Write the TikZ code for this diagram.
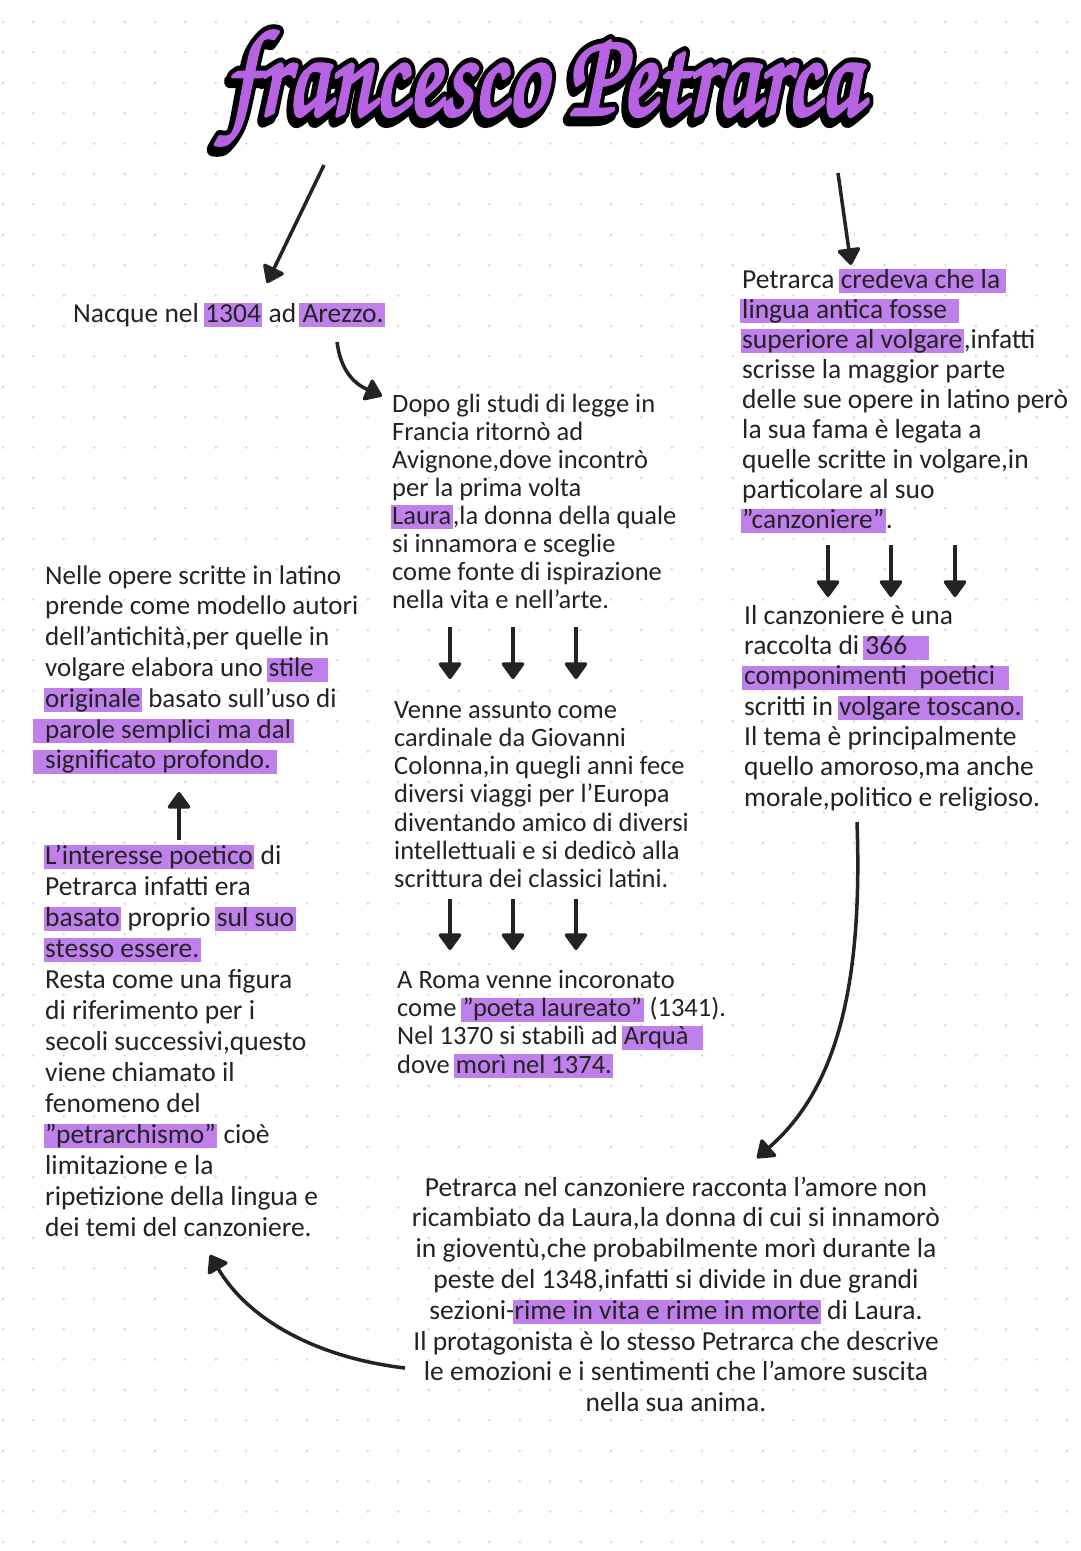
\documentclass[tikz,border=0pt]{standalone}
\usepackage{fontspec}
\usepackage{graphicx}
\setmainfont{Carlito}
\newfontfamily\titlefont{texgyrechorus-mediumitalic.otf}
\usetikzlibrary{arrows.meta}
\definecolor{hlc}{RGB}{192,128,236}
\definecolor{titlec}{RGB}{182,98,226}
\definecolor{dotc}{RGB}{208,208,208}
\definecolor{ink}{RGB}{35,35,35}
\newcommand\hlb[3]{{\fboxsep=0pt\kern-#1\colorbox{hlc}{\kern#1\rule[-5pt]{0pt}{24pt}#3\kern#2}}}
\newcommand\hl[1]{\hlb{1.5pt}{1.5pt}{#1}}
\newcommand\titletext{\resizebox*{636pt}{114pt}{\titlefont\fontsize{100}{100}\selectfont francesco Petrarca}}
\newcommand\strokedtitle[2]{\special{pdf:literal direct 2 Tr 1 j 1 J #1 RG #2 w}\titletext\special{pdf:literal direct 0 Tr}}
\tikzset{
  txt/.style={anchor=north west, inner sep=0pt, align=left, text=ink},
  arr/.style={line width=3.5pt, draw=ink, -{Triangle[length=18pt,width=25pt,round]}},
  tnode/.style={inner sep=0pt},
}
\begin{document}
\begin{tikzpicture}[x=1pt,y=-1pt]
\useasboundingbox (0,0) rectangle (1080,1551);
\fill[white] (0,0) rectangle (1080,1551);
% dot grid
\foreach \i in {0,...,35}{
  \foreach \j in {0,...,50}{
    \fill[dotc] ({3+30.4*\i},{22+30.4*\j}) circle (1.2pt);
  }
}
% title: shadow, outline, purple letters
\node[tnode, text=black] (tshadow) at (540,93) {\strokedtitle{0 0 0}{11}};
\node[tnode, text=black] (toutline) at (543,88) {\strokedtitle{0 0 0}{11}};
\node[tnode, text=titlec] (title) at (543,88) {\strokedtitle{0.714 0.384 0.886}{3}};

% text blocks
\node[txt, font=\fontsize{27.5}{30.5}\selectfont] (nacque) at (73,300.65)
  {\strut Nacque nel \hl{1304} ad \hlb{4pt}{1.5pt}{Arezzo.}};

\node[txt, font=\fontsize{26.5}{28}\selectfont] (dopo) at (392,392.4)
  {\strut Dopo gli studi di legge in\\
   Francia ritornò ad\\
   Avignone,dove incontrò\\
   per la prima volta\\
   \hl{Laura},la donna della quale\\
   si innamora e sceglie\\
   come fonte di ispirazione\\
   nella vita e nell'arte.};

\node[txt, font=\fontsize{27.5}{30}\selectfont] (credeva) at (742,267)
  {\strut Petrarca \hlb{2pt}{6pt}{credeva che la}\\
   \hlb{2pt}{12pt}{lingua antica fosse}\\
   \hl{superiore al volgare},infatti\\
   scrisse la maggior parte\\
   delle sue opere in latino però\\
   la sua fama è legata a\\
   quelle scritte in volgare,in\\
   particolare al suo\\
   \hl{"canzoniere"}.};

\node[txt, font=\fontsize{27}{30.8}\selectfont] (opere) at (45,562.4)
  {\strut Nelle opere scritte in latino\\
   prende come modello autori\\
   dell'antichità,per quelle in\\
   volgare elabora uno \hlb{2pt}{14pt}{stile}\\
   \hl{originale} basato sull'uso di\\
   \hlb{12pt}{3pt}{parole semplici ma dal}\\
   \hlb{12pt}{6pt}{significato profondo.}};

\node[txt, font=\fontsize{27.5}{30.3}\selectfont] (canz) at (744,602.8)
  {\strut Il canzoniere è una\\
   raccolta di \hlb{2pt}{22pt}{366}\\
   \hlb{2pt}{14pt}{componimenti\ \ poetici}\\
   scritti in \hl{volgare toscano.}\\
   Il tema è principalmente\\
   quello amoroso,ma anche\\
   morale,politico e religioso.};

\node[txt, font=\fontsize{26.5}{28.2}\selectfont] (venne) at (394,698.3)
  {\strut Venne assunto come\\
   cardinale da Giovanni\\
   Colonna,in quegli anni fece\\
   diversi viaggi per l'Europa\\
   diventando amico di diversi\\
   intellettuali e si dedicò alla\\
   scrittura dei classici latini.};

\node[txt, font=\fontsize{27.5}{31}\selectfont] (interesse) at (45,842.3)
  {\strut \hl{L'interesse poetico} di\\
   Petrarca infatti era\\
   \hl{basato} proprio \hl{sul suo}\\
   \hl{stesso essere.}\\
   Resta come una figura\\
   di riferimento per i\\
   secoli successivi,questo\\
   viene chiamato il\\
   fenomeno del\\
   \hl{"petrarchismo"} cioè\\
   limitazione e la\\
   ripetizione della lingua e\\
   dei temi del canzoniere.};

\node[txt, font=\fontsize{26.5}{28.3}\selectfont] (roma) at (397,968.2)
  {\strut A Roma venne incoronato\\
   come \hl{"poeta laureato"} (1341).\\
   Nel 1370 si stabilì ad \hlb{2pt}{14pt}{Arquà}\\
   dove \hl{morì nel 1374.}};

\node[anchor=north, inner sep=0pt, align=center, text=ink, font=\fontsize{27.5}{30.8}\selectfont] (amore) at (676,1174.4)
  {\strut Petrarca nel canzoniere racconta l'amore non\\
   ricambiato da Laura,la donna di cui si innamorò\\
   in gioventù,che probabilmente morì durante la\\
   peste del 1348,infatti si divide in due grandi\\
   sezioni-\hl{rime in vita e rime in morte} di Laura.\\
   Il protagonista è lo stesso Petrarca che descrive\\
   le emozioni e i sentimenti che l'amore suscita\\
   nella sua anima.};

% connectors
\coordinate (c1s) at (324,165); \coordinate (c1e) at (267,283);
\draw[arr] (c1s) -- (c1e);
\coordinate (c2s) at (838,173); \coordinate (c2e) at (851,265);
\draw[arr] (c2s) -- (c2e);
\coordinate (c3s) at (337,342); \coordinate (c3e) at (382,396);
\draw[arr] (c3s) .. controls (341,372) and (355,384) .. (c3e);
\foreach \x [count=\k] in {450,513,576}{
  \coordinate (m1s\k) at (\x,627); \coordinate (m1e\k) at (\x,679);
  \draw[arr] (m1s\k) -- (m1e\k);
  \coordinate (m2s\k) at (\x,899); \coordinate (m2e\k) at (\x,950);
  \draw[arr] (m2s\k) -- (m2e\k);
}
\foreach \x [count=\k] in {828,891,955}{
  \coordinate (r1s\k) at (\x,545); \coordinate (r1e\k) at (\x,597);
  \draw[arr] (r1s\k) -- (r1e\k);
}
\coordinate (u1s) at (179,840); \coordinate (u1e) at (179,792);
\draw[arr] (u1s) -- (u1e);
\coordinate (c4s) at (857,822); \coordinate (c4e) at (757,1158);
\draw[arr] (c4s) .. controls (863,990) and (835,1090) .. (c4e);
\coordinate (c5s) at (405,1368); \coordinate (c5e) at (210,1255);
\draw[arr] (c5s) .. controls (320,1358) and (250,1322) .. (c5e);
\end{tikzpicture}
\end{document}
